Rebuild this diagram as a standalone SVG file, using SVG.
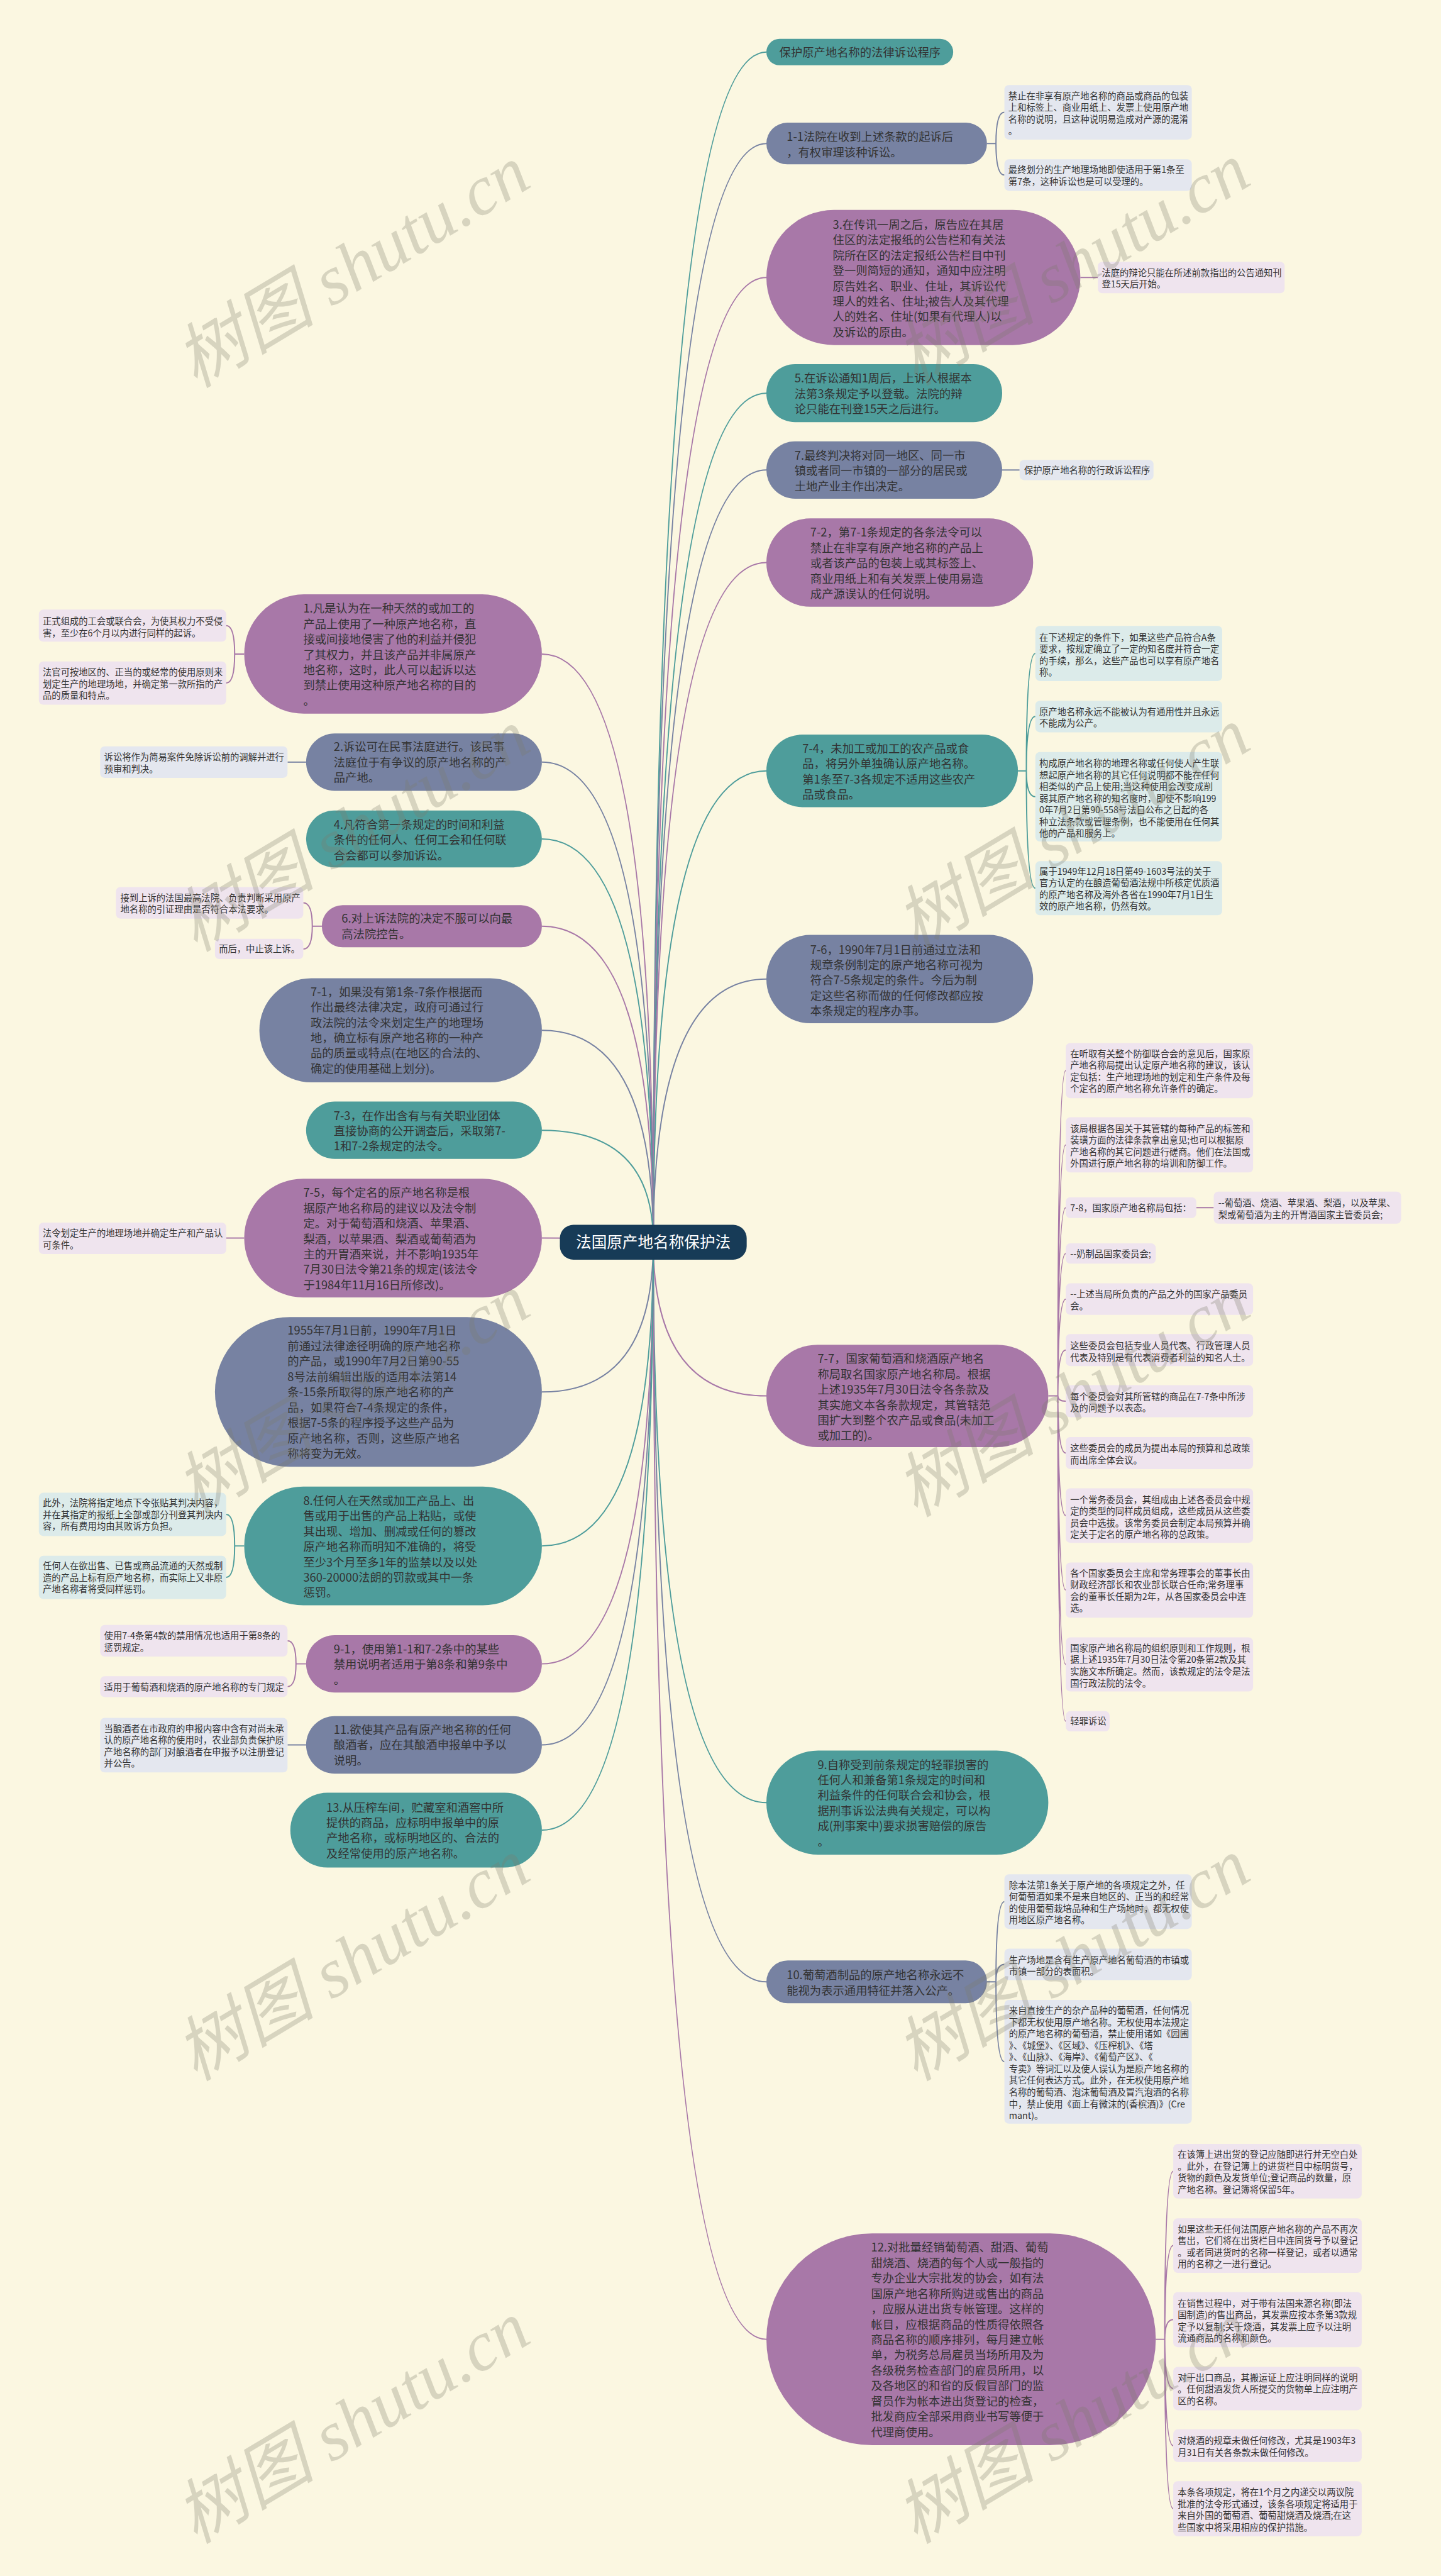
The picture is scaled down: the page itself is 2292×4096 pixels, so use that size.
<svg xmlns="http://www.w3.org/2000/svg" width="2292" height="4096" viewBox="0 0 2292 4096">
<style>
.n-p{fill:#a878a8}.n-s{fill:#7782a2}.n-t{fill:#4e9d9b}
.l-p{fill:#efe4ee}.l-s{fill:#e4e7ef}.l-t{fill:#dcebea}
.c-p,.c-s,.c-t{fill:none;stroke-width:2.2}
.c-p{stroke:#a878a8}.c-s{stroke:#7782a2}.c-t{stroke:#4e9d9b}
.tm{font-family:"Noto Sans CJK SC","Liberation Sans",sans-serif;font-size:20.5px;fill:#333}
.tl{font-family:"Noto Sans CJK SC","Liberation Sans",sans-serif;font-size:16px;fill:#333}
.tc{font-family:"Noto Sans CJK SC","Liberation Sans",sans-serif;font-size:27.5px;fill:#fff;text-anchor:middle}
.wm{font-family:"Liberation Serif","Noto Sans CJK SC",serif;font-style:italic;font-size:125px;fill:#7d7b6a;opacity:.28;text-anchor:middle}
</style>
<rect width="2292" height="4096" fill="#fbf7e1"/>
<g transform="scale(0.895)">
<g id="connectors">
<path class="c-t" d="M1161 2207 Q1161 92.5 1362 92.5"/>
<path class="c-s" d="M1161 2207 Q1161 255 1362 255"/>
<path class="c-p" d="M1161 2207 Q1161 493 1362 493"/>
<path class="c-t" d="M1161 2207 Q1161 698.5 1362 698.5"/>
<path class="c-s" d="M1161 2207 Q1161 835 1362 835"/>
<path class="c-p" d="M1161 2207 Q1161 999.5 1362 999.5"/>
<path class="c-t" d="M1161 2207 Q1161 1369.5 1362 1369.5"/>
<path class="c-s" d="M1161 2207 Q1161 1739.5 1362 1739.5"/>
<path class="c-p" d="M1161 2207 Q1161 2480 1362 2480"/>
<path class="c-t" d="M1161 2207 Q1161 3202.5 1362 3202.5"/>
<path class="c-s" d="M1161 2207 Q1161 3521 1362 3521"/>
<path class="c-p" d="M1161 2207 Q1161 4156 1362 4156"/>
<path class="c-p" d="M1161 2207 Q1161 1162 963 1162"/>
<path class="c-s" d="M1161 2207 Q1161 1354 963 1354"/>
<path class="c-t" d="M1161 2207 Q1161 1490.5 963 1490.5"/>
<path class="c-p" d="M1161 2207 Q1161 1645.5 963 1645.5"/>
<path class="c-s" d="M1161 2207 Q1161 1830.5 963 1830.5"/>
<path class="c-t" d="M1161 2207 Q1161 2008 963 2008"/>
<path class="c-p" d="M1161 2207 Q1161 2199.5 963 2199.5"/>
<path class="c-s" d="M1161 2207 Q1161 2473 963 2473"/>
<path class="c-t" d="M1161 2207 Q1161 2746.5 963 2746.5"/>
<path class="c-p" d="M1161 2207 Q1161 2956 963 2956"/>
<path class="c-s" d="M1161 2207 Q1161 3100 963 3100"/>
<path class="c-t" d="M1161 2207 Q1161 3251.5 963 3251.5"/>
<!-- leaf connectors -->
<path class="c-s" d="M1754 255 L1770 255 M1770 255 Q1770 199.5 1785 199.5 M1770 255 Q1770 311 1785 311"/>
<path class="c-p" d="M1920 493 L1951 493"/>
<path class="c-s" d="M1781 835 L1812 835"/>
<path class="c-t" d="M1809 1369.5 L1824 1369.5 M1824 1369.5 Q1824 1161 1840 1161 M1824 1369.5 Q1824 1273 1840 1273 M1824 1369.5 Q1824 1415.5 1840 1415.5 M1824 1369.5 Q1824 1578 1840 1578"/>
<path class="c-p" d="M1863 2480 L1880 2480 M1880 2480 Q1880 1902 1894 1902 M1880 2480 Q1880 2034 1894 2034 M1880 2480 Q1880 2145.5 1894 2145.5 M1880 2480 Q1880 2227 1894 2227 M1880 2480 Q1880 2308 1894 2308 M1880 2480 Q1880 2398.5 1894 2398.5 M1880 2480 Q1880 2489.5 1894 2489.5 M1880 2480 Q1880 2581.5 1894 2581.5 M1880 2480 Q1880 2692.5 1894 2692.5 M1880 2480 Q1880 2825 1894 2825 M1880 2480 Q1880 2957 1894 2957 M1880 2480 Q1880 3058 1894 3058 M2126 2145.5 L2157 2145.5"/>
<path class="c-s" d="M1754 3521 L1770 3521 M1770 3521 Q1770 3378.5 1785 3378.5 M1770 3521 Q1770 3490 1785 3490 M1770 3521 Q1770 3663 1785 3663"/>
<path class="c-p" d="M2054 4156 L2070 4156 M2070 4156 Q2070 3857.5 2085 3857.5 M2070 4156 Q2070 3989.5 2085 3989.5 M2070 4156 Q2070 4121 2085 4121 M2070 4156 Q2070 4243.5 2085 4243.5 M2070 4156 Q2070 4345 2085 4345 M2070 4156 Q2070 4457 2085 4457"/>
<path class="c-p" d="M434 1162 L417 1162 M417 1162 Q417 1111.5 402 1111.5 M417 1162 Q417 1213.5 402 1213.5"/>
<path class="c-s" d="M544 1354 L511 1354"/>
<path class="c-p" d="M572 1645.5 L555 1645.5 M555 1645.5 Q555 1604 539 1604 M555 1645.5 Q555 1686 539 1686"/>
<path class="c-p" d="M434 2199.5 L402 2199.5"/>
<path class="c-t" d="M434 2746.5 L417 2746.5 M417 2746.5 Q417 2690.5 402 2690.5 M417 2746.5 Q417 2802.5 402 2802.5"/>
<path class="c-p" d="M544 2956 L526 2956 M526 2956 Q526 2915 511 2915 M526 2956 Q526 2996.5 511 2996.5"/>
<path class="c-s" d="M544 3100 L511 3100"/>
</g>

<g id="center">
<rect x="995" y="2176" width="332" height="62" rx="24" fill="#173b57"/>
<text class="tc" x="1161" y="2217">法国原产地名称保护法</text>
</g>

<g id="node-legal-procedure">
<rect class="n-t" x="1362" y="69" width="332" height="47" rx="23.5"/>
<text class="tm" x="1385" y="100">保护原产地名称的法律诉讼程序</text>
</g>

<g id="node-1-1">
<rect class="n-s" x="1362" y="218" width="392" height="74" rx="37"/>
<text class="tm" x="1398" y="250.5"><tspan x="1398">1-1法院在收到上述条款的起诉后</tspan><tspan x="1398" dy="27.3">，有权审理该种诉讼。</tspan></text>
<rect class="l-s" x="1785" y="151" width="333" height="97" rx="8"/>
<text class="tl" x="1792" y="176"><tspan x="1792">禁止在非享有原产地名称的商品或商品的包装</tspan><tspan x="1792" dy="20.7">上和标签上、商业用纸上、发票上使用原产地</tspan><tspan x="1792" dy="20.7">名称的说明，且这种说明易造成对产源的混淆</tspan><tspan x="1792" dy="20.7">。</tspan></text>
<rect class="l-s" x="1785" y="283" width="333" height="56" rx="8"/>
<text class="tl" x="1792" y="307.5"><tspan x="1792">最终划分的生产地理场地即使适用于第1条至</tspan><tspan x="1792" dy="20.7">第7条，这种诉讼也是可以受理的。</tspan></text>
</g>

<g id="node-3">
<rect class="n-p" x="1362" y="373" width="558" height="240" rx="120"/>
<text class="tm" x="1480" y="406.5"><tspan x="1480">3.在传讯一周之后，原告应在其居</tspan><tspan x="1480" dy="27.3">住区的法定报纸的公告栏和有关法</tspan><tspan x="1480" dy="27.3">院所在区的法定报纸公告栏目中刊</tspan><tspan x="1480" dy="27.3">登一则简短的通知，通知中应注明</tspan><tspan x="1480" dy="27.3">原告姓名、职业、住址，其诉讼代</tspan><tspan x="1480" dy="27.3">理人的姓名、住址;被告人及其代理</tspan><tspan x="1480" dy="27.3">人的姓名、住址(如果有代理人)以</tspan><tspan x="1480" dy="27.3">及诉讼的原由。</tspan></text>
<rect class="l-p" x="1951" y="465" width="332" height="56" rx="8"/>
<text class="tl" x="1958" y="490"><tspan x="1958">法庭的辩论只能在所述前款指出的公告通知刊</tspan><tspan x="1958" dy="20.7">登15天后开始。</tspan></text>
</g>

<g id="node-5">
<rect class="n-t" x="1362" y="647" width="419" height="103" rx="51"/>
<text class="tm" x="1412" y="679.5"><tspan x="1412">5.在诉讼通知1周后，上诉人根据本</tspan><tspan x="1412" dy="27.3">法第3条规定予以登载。法院的辩</tspan><tspan x="1412" dy="27.3">论只能在刊登15天之后进行。</tspan></text>
</g>

<g id="node-7">
<rect class="n-s" x="1362" y="784" width="419" height="102" rx="51"/>
<text class="tm" x="1412" y="816.5"><tspan x="1412">7.最终判决将对同一地区、同一市</tspan><tspan x="1412" dy="27.3">镇或者同一市镇的一部分的居民或</tspan><tspan x="1412" dy="27.3">土地产业主作出决定。</tspan></text>
<rect class="l-s" x="1812" y="817" width="238" height="36" rx="8"/>
<text class="tl" x="1820" y="841">保护原产地名称的行政诉讼程序</text>
</g>

<g id="node-7-2">
<rect class="n-p" x="1362" y="921" width="474" height="157" rx="78"/>
<text class="tm" x="1440" y="953.5"><tspan x="1440">7-2，第7-1条规定的各条法令可以</tspan><tspan x="1440" dy="27.3">禁止在非享有原产地名称的产品上</tspan><tspan x="1440" dy="27.3">或者该产品的包装上或其标签上、</tspan><tspan x="1440" dy="27.3">商业用纸上和有关发票上使用易造</tspan><tspan x="1440" dy="27.3">成产源误认的任何说明。</tspan></text>
</g>

<g id="node-7-4">
<rect class="n-t" x="1362" y="1305" width="447" height="129" rx="64"/>
<text class="tm" x="1426" y="1337.5"><tspan x="1426">7-4，未加工或加工的农产品或食</tspan><tspan x="1426" dy="27.3">品，将另外单独确认原产地名称。</tspan><tspan x="1426" dy="27.3">第1条至7-3各规定不适用这些农产</tspan><tspan x="1426" dy="27.3">品或食品。</tspan></text>
<rect class="l-t" x="1840" y="1112" width="332" height="98" rx="8"/>
<text class="tl" x="1847" y="1138"><tspan x="1847">在下述规定的条件下，如果这些产品符合A条</tspan><tspan x="1847" dy="20.7">要求，按规定确立了一定的知名度并符合一定</tspan><tspan x="1847" dy="20.7">的手续，那么，这些产品也可以享有原产地名</tspan><tspan x="1847" dy="20.7">称。</tspan></text>
<rect class="l-t" x="1840" y="1245" width="332" height="56" rx="8"/>
<text class="tl" x="1847" y="1270"><tspan x="1847">原产地名称永远不能被认为有通用性并且永远</tspan><tspan x="1847" dy="20.7">不能成为公产。</tspan></text>
<rect class="l-t" x="1840" y="1336" width="332" height="159" rx="8"/>
<text class="tl" x="1847" y="1362"><tspan x="1847">构成原产地名称的地理名称或任何使人产生联</tspan><tspan x="1847" dy="20.7">想起原产地名称的其它任何说明都不能在任何</tspan><tspan x="1847" dy="20.7">相类似的产品上使用;当这种使用会改变成削</tspan><tspan x="1847" dy="20.7">弱其原产地名称的知名度时，即使不影响199</tspan><tspan x="1847" dy="20.7">0年7月2日第90-558号法自公布之日起的各</tspan><tspan x="1847" dy="20.7">种立法条款或管理条例，也不能使用在任何其</tspan><tspan x="1847" dy="20.7">他的产品和服务上。</tspan></text>
<rect class="l-t" x="1840" y="1530" width="332" height="96" rx="8"/>
<text class="tl" x="1847" y="1554"><tspan x="1847">属于1949年12月18日第49-1603号法的关于</tspan><tspan x="1847" dy="20.7">官方认定的在酿造葡萄酒法规中所核定优质酒</tspan><tspan x="1847" dy="20.7">的原产地名称及海外各省在1990年7月1日生</tspan><tspan x="1847" dy="20.7">效的原产地名称，仍然有效。</tspan></text>
</g>

<g id="node-7-6">
<rect class="n-s" x="1362" y="1661" width="474" height="157" rx="78"/>
<text class="tm" x="1440" y="1694.5"><tspan x="1440">7-6，1990年7月1日前通过立法和</tspan><tspan x="1440" dy="27.3">规章条例制定的原产地名称可视为</tspan><tspan x="1440" dy="27.3">符合7-5条规定的条件。今后为制</tspan><tspan x="1440" dy="27.3">定这些名称而做的任何修改都应按</tspan><tspan x="1440" dy="27.3">本条规定的程序办事。</tspan></text>
</g>

<g id="node-7-7">
<rect class="n-p" x="1362" y="2389" width="501" height="182" rx="91"/>
<text class="tm" x="1453" y="2421.5"><tspan x="1453">7-7，国家葡萄酒和烧酒原产地名</tspan><tspan x="1453" dy="27.3">称局取名国家原产地名称局。根据</tspan><tspan x="1453" dy="27.3">上述1935年7月30日法令各条款及</tspan><tspan x="1453" dy="27.3">其实施文本各条款规定，其管辖范</tspan><tspan x="1453" dy="27.3">围扩大到整个农产品或食品(未加工</tspan><tspan x="1453" dy="27.3">或加工的)。</tspan></text>
<rect class="l-p" x="1894" y="1853" width="333" height="98" rx="8"/>
<text class="tl" x="1902" y="1878"><tspan x="1902">在听取有关整个防御联合会的意见后，国家原</tspan><tspan x="1902" dy="20.7">产地名称局提出认定原产地名称的建议，该认</tspan><tspan x="1902" dy="20.7">定包括：生产地理场地的划定和生产条件及每</tspan><tspan x="1902" dy="20.7">个定名的原产地名称允许条件的确定。</tspan></text>
<rect class="l-p" x="1894" y="1985" width="333" height="98" rx="8"/>
<text class="tl" x="1902" y="2011"><tspan x="1902">该局根据各国关于其管辖的每种产品的标签和</tspan><tspan x="1902" dy="20.7">装璜方面的法律条款拿出意见;也可以根据原</tspan><tspan x="1902" dy="20.7">产地名称的其它问题进行磋商。他们在法国或</tspan><tspan x="1902" dy="20.7">外国进行原产地名称的培训和防御工作。</tspan></text>
<rect class="l-p" x="1894" y="2127" width="232" height="37" rx="8"/>
<text class="tl" x="1902" y="2152">7-8，国家原产地名称局包括：</text>
<rect class="l-p" x="2157" y="2117" width="333" height="57" rx="8"/>
<text class="tl" x="2165" y="2143"><tspan x="2165">--葡萄酒、烧酒、苹果酒、梨酒，以及苹果、</tspan><tspan x="2165" dy="20.7">梨或葡萄酒为主的开胃酒国家主管委员会;</tspan></text>
<rect class="l-p" x="1894" y="2209" width="160" height="36" rx="8"/>
<text class="tl" x="1902" y="2233">--奶制品国家委员会;</text>
<rect class="l-p" x="1894" y="2280" width="333" height="56" rx="8"/>
<text class="tl" x="1902" y="2305"><tspan x="1902">--上述当局所负责的产品之外的国家产品委员</tspan><tspan x="1902" dy="20.7">会。</tspan></text>
<rect class="l-p" x="1894" y="2370" width="333" height="57" rx="8"/>
<text class="tl" x="1902" y="2397"><tspan x="1902">这些委员会包括专业人员代表、行政管理人员</tspan><tspan x="1902" dy="20.7">代表及特别是有代表消费者利益的知名人士。</tspan></text>
<rect class="l-p" x="1894" y="2461" width="333" height="57" rx="8"/>
<text class="tl" x="1902" y="2487"><tspan x="1902">每个委员会对其所管辖的商品在7-7条中所涉</tspan><tspan x="1902" dy="20.7">及的问题予以表态。</tspan></text>
<rect class="l-p" x="1894" y="2553" width="333" height="57" rx="8"/>
<text class="tl" x="1902" y="2579"><tspan x="1902">这些委员会的成员为提出本局的预算和总政策</tspan><tspan x="1902" dy="20.7">而出席全体会议。</tspan></text>
<rect class="l-p" x="1894" y="2644" width="333" height="97" rx="8"/>
<text class="tl" x="1902" y="2670"><tspan x="1902">一个常务委员会，其组成由上述各委员会中规</tspan><tspan x="1902" dy="20.7">定的类型的同样成员组成，这些成员从这些委</tspan><tspan x="1902" dy="20.7">员会中选拔。该常务委员会制定本局预算并确</tspan><tspan x="1902" dy="20.7">定关于定名的原产地名称的总政策。</tspan></text>
<rect class="l-p" x="1894" y="2776" width="333" height="98" rx="8"/>
<text class="tl" x="1902" y="2801"><tspan x="1902">各个国家委员会主席和常务理事会的董事长由</tspan><tspan x="1902" dy="20.7">财政经济部长和农业部长联合任命;常务理事</tspan><tspan x="1902" dy="20.7">会的董事长任期为2年，从各国家委员会中连</tspan><tspan x="1902" dy="20.7">选。</tspan></text>
<rect class="l-p" x="1894" y="2909" width="333" height="96" rx="8"/>
<text class="tl" x="1902" y="2934"><tspan x="1902">国家原产地名称局的组织原则和工作规则，根</tspan><tspan x="1902" dy="20.7">据上述1935年7月30日法令第20条第2款及其</tspan><tspan x="1902" dy="20.7">实施文本所确定。然而，该款规定的法令是法</tspan><tspan x="1902" dy="20.7">国行政法院的法令。</tspan></text>
<rect class="l-p" x="1894" y="3040" width="78" height="36" rx="8"/>
<text class="tl" x="1902" y="3064">轻罪诉讼</text>
</g>

<g id="node-9">
<rect class="n-t" x="1362" y="3110" width="501" height="185" rx="92"/>
<text class="tm" x="1453" y="3142.5"><tspan x="1453">9.自称受到前条规定的轻罪损害的</tspan><tspan x="1453" dy="27.3">任何人和兼备第1条规定的时间和</tspan><tspan x="1453" dy="27.3">利益条件的任何联合会和协会，根</tspan><tspan x="1453" dy="27.3">据刑事诉讼法典有关规定，可以构</tspan><tspan x="1453" dy="27.3">成(刑事案中)要求损害赔偿的原告</tspan><tspan x="1453" dy="27.3">。</tspan></text>
</g>

<g id="node-10">
<rect class="n-s" x="1362" y="3483" width="392" height="76" rx="38"/>
<text class="tm" x="1398" y="3516.5"><tspan x="1398">10.葡萄酒制品的原产地名称永远不</tspan><tspan x="1398" dy="27.3">能视为表示通用特征并落入公产。</tspan></text>
<rect class="l-s" x="1785" y="3330" width="333" height="97" rx="8"/>
<text class="tl" x="1793" y="3355"><tspan x="1793">除本法第1条关于原产地的各项规定之外，任</tspan><tspan x="1793" dy="20.7">何葡萄酒如果不是来自地区的、正当的和经常</tspan><tspan x="1793" dy="20.7">的使用葡萄栽培品种和生产场地时，都无权使</tspan><tspan x="1793" dy="20.7">用地区原产地名称。</tspan></text>
<rect class="l-s" x="1785" y="3462" width="333" height="56" rx="8"/>
<text class="tl" x="1793" y="3488"><tspan x="1793">生产场地是含有生产原产地名葡萄酒的市镇或</tspan><tspan x="1793" dy="20.7">市镇一部分的表面积。</tspan></text>
<rect class="l-s" x="1785" y="3553" width="333" height="220" rx="8"/>
<text class="tl" x="1793" y="3578"><tspan x="1793">来自直接生产的杂产品种的葡萄酒，任何情况</tspan><tspan x="1793" dy="20.7">下都无权使用原产地名称。无权使用本法规定</tspan><tspan x="1793" dy="20.7">的原产地名称的葡萄酒，禁止使用诸如《园圃</tspan><tspan x="1793" dy="20.7">》、《城堡》、《区域》、《压榨机》、《塔</tspan><tspan x="1793" dy="20.7">》、《山脉》、《海岸》、《葡萄产区》、《</tspan><tspan x="1793" dy="20.7">专卖》等词汇以及使人误认为是原产地名称的</tspan><tspan x="1793" dy="20.7">其它任何表达方式。此外，在无权使用原产地</tspan><tspan x="1793" dy="20.7">名称的葡萄酒、泡沫葡萄酒及冒汽泡酒的名称</tspan><tspan x="1793" dy="20.7">中，禁止使用《面上有微沫的(香槟酒)》(Cre</tspan><tspan x="1793" dy="20.7">mant)。</tspan></text>
</g>

<g id="node-12">
<rect class="n-p" x="1362" y="3968" width="692" height="376" rx="188"/>
<text class="tm" x="1548" y="4000.5"><tspan x="1548">12.对批量经销葡萄酒、甜酒、葡萄</tspan><tspan x="1548" dy="27.3">甜烧酒、烧酒的每个人或一般指的</tspan><tspan x="1548" dy="27.3">专办企业大宗批发的协会，如有法</tspan><tspan x="1548" dy="27.3">国原产地名称所购进或售出的商品</tspan><tspan x="1548" dy="27.3">，应服从进出货专帐管理。这样的</tspan><tspan x="1548" dy="27.3">帐目，应根据商品的性质得依照各</tspan><tspan x="1548" dy="27.3">商品名称的顺序排列，每月建立帐</tspan><tspan x="1548" dy="27.3">单，为税务总局雇员当场所用及为</tspan><tspan x="1548" dy="27.3">各级税务检查部门的雇员所用，以</tspan><tspan x="1548" dy="27.3">及各地区的和省的反假冒部门的监</tspan><tspan x="1548" dy="27.3">督员作为帐本进出货登记的检查，</tspan><tspan x="1548" dy="27.3">批发商应全部采用商业书写等便于</tspan><tspan x="1548" dy="27.3">代理商使用。</tspan></text>
<rect class="l-p" x="2085" y="3809" width="335" height="97" rx="8"/>
<text class="tl" x="2093" y="3834"><tspan x="2093">在该簿上进出货的登记应随即进行并无空白处</tspan><tspan x="2093" dy="20.7">。此外，在登记簿上的进货栏目中标明货号，</tspan><tspan x="2093" dy="20.7">货物的颜色及发货单位;登记商品的数量，原</tspan><tspan x="2093" dy="20.7">产地名称。登记簿将保留5年。</tspan></text>
<rect class="l-p" x="2085" y="3941" width="335" height="97" rx="8"/>
<text class="tl" x="2093" y="3966"><tspan x="2093">如果这些无任何法国原产地名称的产品不再次</tspan><tspan x="2093" dy="20.7">售出，它们将在出货栏目中连同货号予以登记</tspan><tspan x="2093" dy="20.7">。或者同进货时的名称一样登记，或者以通常</tspan><tspan x="2093" dy="20.7">用的名称之一进行登记。</tspan></text>
<rect class="l-p" x="2085" y="4072" width="335" height="98" rx="8"/>
<text class="tl" x="2093" y="4098"><tspan x="2093">在销售过程中，对于带有法国来源名称(即法</tspan><tspan x="2093" dy="20.7">国制造)的售出商品，其发票应按本条第3款规</tspan><tspan x="2093" dy="20.7">定予以复制;关于烧酒，其发票上应予以注明</tspan><tspan x="2093" dy="20.7">流通商品的名称和颜色。</tspan></text>
<rect class="l-p" x="2085" y="4205" width="335" height="77" rx="8"/>
<text class="tl" x="2093" y="4230"><tspan x="2093">对于出口商品，其搬运证上应注明同样的说明</tspan><tspan x="2093" dy="20.7">。任何甜酒发货人所提交的货物单上应注明产</tspan><tspan x="2093" dy="20.7">区的名称。</tspan></text>
<rect class="l-p" x="2085" y="4316" width="335" height="58" rx="8"/>
<text class="tl" x="2093" y="4342"><tspan x="2093">对烧酒的规章未做任何修改，尤其是1903年3</tspan><tspan x="2093" dy="20.7">月31日有关各条款未做任何修改。</tspan></text>
<rect class="l-p" x="2085" y="4408" width="335" height="98" rx="8"/>
<text class="tl" x="2093" y="4434"><tspan x="2093">本条各项规定，将在1个月之内递交以两议院</tspan><tspan x="2093" dy="20.7">批准的法令形式通过，该条各项规定将适用于</tspan><tspan x="2093" dy="20.7">来自外国的葡萄酒、葡萄甜烧酒及烧酒;在这</tspan><tspan x="2093" dy="20.7">些国家中将采用相应的保护措施。</tspan></text>
</g>

<g id="node-1">
<rect class="n-p" x="434" y="1056" width="529" height="212" rx="106"/>
<text class="tm" x="539" y="1088.5"><tspan x="539">1.凡是认为在一种天然的或加工的</tspan><tspan x="539" dy="27.3">产品上使用了一种原产地名称，直</tspan><tspan x="539" dy="27.3">接或间接地侵害了他的利益并侵犯</tspan><tspan x="539" dy="27.3">了其权力，并且该产品并非属原产</tspan><tspan x="539" dy="27.3">地名称，这时，此人可以起诉以达</tspan><tspan x="539" dy="27.3">到禁止使用这种原产地名称的目的</tspan><tspan x="539" dy="27.3">。</tspan></text>
<rect class="l-p" x="69" y="1083" width="333" height="57" rx="8"/>
<text class="tl" x="76" y="1110"><tspan x="76">正式组成的工会或联合会，为使其权力不受侵</tspan><tspan x="76" dy="20.7">害，至少在6个月以内进行同样的起诉。</tspan></text>
<rect class="l-p" x="69" y="1175" width="333" height="77" rx="8"/>
<text class="tl" x="76" y="1200"><tspan x="76">法官可按地区的、正当的或经常的使用原则来</tspan><tspan x="76" dy="20.7">划定生产的地理场地，并确定第一款所指的产</tspan><tspan x="76" dy="20.7">品的质量和特点。</tspan></text>
</g>

<g id="node-2">
<rect class="n-s" x="544" y="1303" width="419" height="102" rx="51"/>
<text class="tm" x="593" y="1334.5"><tspan x="593">2.诉讼可在民事法庭进行。该民事</tspan><tspan x="593" dy="27.3">法庭位于有争议的原产地名称的产</tspan><tspan x="593" dy="27.3">品产地。</tspan></text>
<rect class="l-s" x="178" y="1326" width="333" height="56" rx="8"/>
<text class="tl" x="185" y="1351"><tspan x="185">诉讼将作为简易案件免除诉讼前的调解并进行</tspan><tspan x="185" dy="20.7">预审和判决。</tspan></text>
</g>

<g id="node-4">
<rect class="n-t" x="544" y="1440" width="419" height="101" rx="50"/>
<text class="tm" x="593" y="1472.5"><tspan x="593">4.凡符合第一条规定的时间和利益</tspan><tspan x="593" dy="27.3">条件的任何人、任何工会和任何联</tspan><tspan x="593" dy="27.3">合会都可以参加诉讼。</tspan></text>
</g>

<g id="node-6">
<rect class="n-p" x="572" y="1608" width="391" height="75" rx="37"/>
<text class="tm" x="607" y="1639.5"><tspan x="607">6.对上诉法院的决定不服可以向最</tspan><tspan x="607" dy="27.3">高法院控告。</tspan></text>
<rect class="l-p" x="206" y="1576" width="333" height="56" rx="8"/>
<text class="tl" x="214" y="1601"><tspan x="214">接到上诉的法国最高法院、负责判断采用原产</tspan><tspan x="214" dy="20.7">地名称的引证理由是否符合本法要求。</tspan></text>
<rect class="l-p" x="382" y="1668" width="157" height="36" rx="8"/>
<text class="tl" x="389" y="1692">而后，中止该上诉。</text>
</g>

<g id="node-7-1">
<rect class="n-s" x="461" y="1738" width="502" height="185" rx="92"/>
<text class="tm" x="552" y="1769.5"><tspan x="552">7-1，如果没有第1条-7条作根据而</tspan><tspan x="552" dy="27.3">作出最终法律决定，政府可通过行</tspan><tspan x="552" dy="27.3">政法院的法令来划定生产的地理场</tspan><tspan x="552" dy="27.3">地，确立标有原产地名称的一种产</tspan><tspan x="552" dy="27.3">品的质量或特点(在地区的合法的、</tspan><tspan x="552" dy="27.3">确定的使用基础上划分)。</tspan></text>
</g>

<g id="node-7-3">
<rect class="n-t" x="544" y="1957" width="419" height="102" rx="51"/>
<text class="tm" x="593" y="1989.5"><tspan x="593">7-3，在作出含有与有关职业团体</tspan><tspan x="593" dy="27.3">直接协商的公开调查后，采取第7-</tspan><tspan x="593" dy="27.3">1和7-2条规定的法令。</tspan></text>
</g>

<g id="node-7-5">
<rect class="n-p" x="434" y="2094" width="529" height="211" rx="105"/>
<text class="tm" x="539" y="2126.5"><tspan x="539">7-5，每个定名的原产地名称是根</tspan><tspan x="539" dy="27.3">据原产地名称局的建议以及法令制</tspan><tspan x="539" dy="27.3">定。对于葡萄酒和烧酒、苹果酒、</tspan><tspan x="539" dy="27.3">梨酒，以苹果酒、梨酒或葡萄酒为</tspan><tspan x="539" dy="27.3">主的开胃酒来说，并不影响1935年</tspan><tspan x="539" dy="27.3">7月30日法令第21条的规定(该法令</tspan><tspan x="539" dy="27.3">于1984年11月16日所修改)。</tspan></text>
<rect class="l-p" x="69" y="2172" width="333" height="56" rx="8"/>
<text class="tl" x="76" y="2197"><tspan x="76">法令划定生产的地理场地并确定生产和产品认</tspan><tspan x="76" dy="20.7">可条件。</tspan></text>
</g>

<g id="node-1955">
<rect class="n-s" x="382" y="2340" width="581" height="266" rx="133"/>
<text class="tm" x="511" y="2371.5"><tspan x="511">1955年7月1日前，1990年7月1日</tspan><tspan x="511" dy="27.3">前通过法律途径明确的原产地名称</tspan><tspan x="511" dy="27.3">的产品，或1990年7月2日第90-55</tspan><tspan x="511" dy="27.3">8号法前编辑出版的适用本法第14</tspan><tspan x="511" dy="27.3">条-15条所取得的原产地名称的产</tspan><tspan x="511" dy="27.3">品，如果符合7-4条规定的条件，</tspan><tspan x="511" dy="27.3">根据7-5条的程序授予这些产品为</tspan><tspan x="511" dy="27.3">原产地名称，否则，这些原产地名</tspan><tspan x="511" dy="27.3">称将变为无效。</tspan></text>
</g>

<g id="node-8">
<rect class="n-t" x="434" y="2641" width="529" height="211" rx="105"/>
<text class="tm" x="539" y="2673.5"><tspan x="539">8.任何人在天然或加工产品上、出</tspan><tspan x="539" dy="27.3">售或用于出售的产品上粘贴，或使</tspan><tspan x="539" dy="27.3">其出现、增加、删减或任何的篡改</tspan><tspan x="539" dy="27.3">原产地名称而明知不准确的，将受</tspan><tspan x="539" dy="27.3">至少3个月至多1年的监禁以及以处</tspan><tspan x="539" dy="27.3">360-20000法朗的罚款或其中一条</tspan><tspan x="539" dy="27.3">惩罚。</tspan></text>
<rect class="l-t" x="69" y="2652" width="333" height="77" rx="8"/>
<text class="tl" x="76" y="2676"><tspan x="76">此外，法院将指定地点下令张贴其判决内容，</tspan><tspan x="76" dy="20.7">并在其指定的报纸上全部或部分刊登其判决内</tspan><tspan x="76" dy="20.7">容，所有费用均由其败诉方负担。</tspan></text>
<rect class="l-t" x="69" y="2764" width="333" height="77" rx="8"/>
<text class="tl" x="76" y="2788"><tspan x="76">任何人在欲出售、已售或商品流通的天然或制</tspan><tspan x="76" dy="20.7">造的产品上标有原产地名称，而实际上又非原</tspan><tspan x="76" dy="20.7">产地名称者将受同样惩罚。</tspan></text>
</g>

<g id="node-9-1">
<rect class="n-p" x="544" y="2905" width="419" height="102" rx="51"/>
<text class="tm" x="593" y="2937.5"><tspan x="593">9-1，使用第1-1和7-2条中的某些</tspan><tspan x="593" dy="27.3">禁用说明者适用于第8条和第9条中</tspan><tspan x="593" dy="27.3">。</tspan></text>
<rect class="l-p" x="178" y="2887" width="333" height="56" rx="8"/>
<text class="tl" x="185" y="2912"><tspan x="185">使用7-4条第4款的禁用情况也适用于第8条的</tspan><tspan x="185" dy="20.7">惩罚规定。</tspan></text>
<rect class="l-p" x="178" y="2978" width="333" height="37" rx="8"/>
<text class="tl" x="185" y="3003">适用于葡萄酒和烧酒的原产地名称的专门规定</text>
</g>

<g id="node-11">
<rect class="n-s" x="544" y="3049" width="419" height="102" rx="51"/>
<text class="tm" x="593" y="3080.5"><tspan x="593">11.欲使其产品有原产地名称的任何</tspan><tspan x="593" dy="27.3">酿酒者，应在其酿酒申报单中予以</tspan><tspan x="593" dy="27.3">说明。</tspan></text>
<rect class="l-s" x="178" y="3052" width="333" height="97" rx="8"/>
<text class="tl" x="185" y="3077"><tspan x="185">当酿酒者在市政府的申报内容中含有对尚未承</tspan><tspan x="185" dy="20.7">认的原产地名称的使用时，农业部负责保护原</tspan><tspan x="185" dy="20.7">产地名称的部门对酿酒者在申报予以注册登记</tspan><tspan x="185" dy="20.7">并公告。</tspan></text>
</g>

<g id="node-13">
<rect class="n-t" x="516" y="3185" width="447" height="133" rx="66"/>
<text class="tm" x="580" y="3218.5"><tspan x="580">13.从压榨车间，贮藏室和酒窖中所</tspan><tspan x="580" dy="27.3">提供的商品，应标明申报单中的原</tspan><tspan x="580" dy="27.3">产地名称，或标明地区的、合法的</tspan><tspan x="580" dy="27.3">及经常使用的原产地名称。</tspan></text>
</g>

<g id="watermarks">
<text class="wm" transform="translate(648 510) rotate(-31)">树图 shutu.cn</text>
<text class="wm" transform="translate(1928 506) rotate(-31)">树图 shutu.cn</text>
<text class="wm" transform="translate(648 1512) rotate(-31)">树图 shutu.cn</text>
<text class="wm" transform="translate(1928 1509) rotate(-31)">树图 shutu.cn</text>
<text class="wm" transform="translate(648 2515) rotate(-31)">树图 shutu.cn</text>
<text class="wm" transform="translate(1928 2516) rotate(-31)">树图 shutu.cn</text>
<text class="wm" transform="translate(648 3518) rotate(-31)">树图 shutu.cn</text>
<text class="wm" transform="translate(1928 3518) rotate(-31)">树图 shutu.cn</text>
<text class="wm" transform="translate(648 4340) rotate(-31)">树图 shutu.cn</text>
<text class="wm" transform="translate(1928 4340) rotate(-31)">树图 shutu.cn</text>
</g>
</g>
</svg>
